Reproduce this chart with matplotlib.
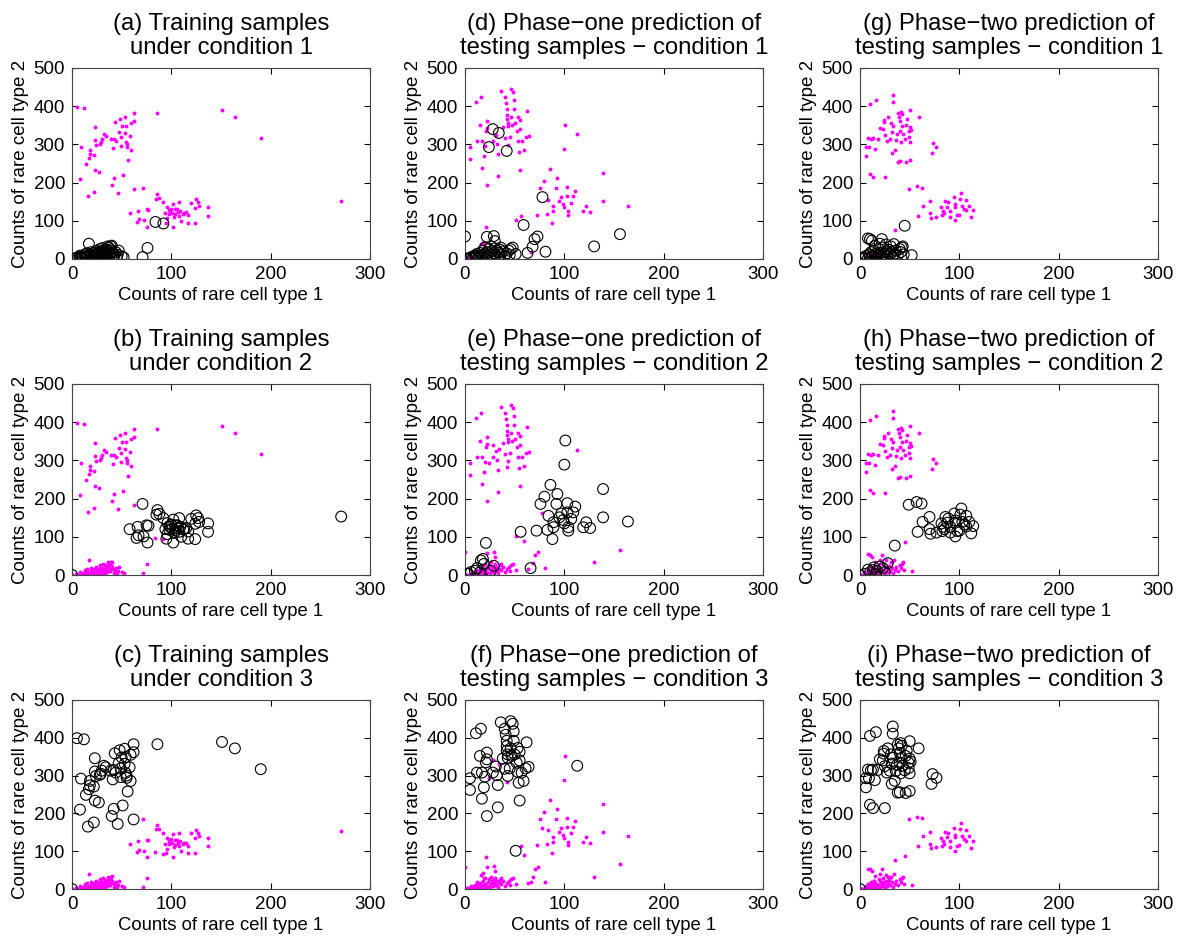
import matplotlib
matplotlib.use("Agg")
from matplotlib import pyplot as plt

plt.rcParams['font.family'] = ['Liberation Sans', 'DejaVu Sans']

# Training samples, grouped by their true condition
train_a = [(0, 0), (4, 3), (6, 1), (8, 6), (9, 3), (10, 2), (11, 4), (12, 1), (13, 7), (14, 3), (15, 9), (16, 4),
           (17, 40), (18, 7), (19, 11), (20, 2), (21, 7), (22, 16), (22, 5), (23, 11), (24, 14), (24, 21), (25, 3),
           (26, 7), (26, 13), (27, 16), (27, 4), (28, 20), (28, 26), (29, 11), (30, 18), (30, 6), (31, 9), (31, 29),
           (32, 16), (33, 25), (33, 5), (34, 13), (34, 20), (35, 8), (36, 23), (36, 14), (36, 33), (37, 29), (38, 16),
           (38, 10), (39, 33), (39, 25), (40, 20), (40, 35), (41, 16), (42, 6), (43, 11), (44, 18), (45, 4), (46, 11),
           (47, 22), (50, 7), (52, 4), (71, 5), (76, 29), (84, 97), (92, 93), (13, 12), (19, 18), (15, 15), (8, 9)]
train_b = [(0, 0), (271, 153), (86, 170), (85, 158), (58, 120), (66, 126), (65, 97), (67, 104), (72, 101), (75, 130),
           (76, 85), (71, 186), (92, 149), (94, 120), (95, 95), (96, 136), (98, 128), (99, 126), (101, 121), (102, 145),
           (102, 85), (104, 117), (104, 130), (107, 123), (108, 149), (108, 113), (109, 126), (110, 100), (112, 119),
           (113, 121), (115, 123), (117, 114), (117, 95), (120, 147), (124, 94), (124, 134), (125, 156), (127, 149),
           (128, 139), (137, 135), (137, 113), (100, 132), (96, 107), (88, 160), (103, 110), (106, 130), (98, 118),
           (77, 129)]
train_c = [(0, 0), (5, 399), (12, 396), (9, 292), (8, 210), (16, 165), (14, 249), (17, 264), (18, 274), (18, 286),
           (22, 271), (23, 311), (24, 299), (23, 346), (23, 234), (27, 229), (22, 176), (29, 305), (30, 313), (32, 326),
           (34, 322), (28, 302), (39, 313), (41, 290), (42, 315), (44, 308), (43, 359), (42, 212), (40, 193), (46, 172),
           (47, 333), (48, 367), (49, 319), (49, 296), (51, 221), (50, 348), (53, 371), (53, 331), (54, 349), (54, 307),
           (55, 300), (55, 294), (56, 258), (58, 322), (59, 355), (59, 286), (62, 362), (62, 383), (62, 184), (86, 383),
           (151, 389), (164, 372), (190, 317)]

# Testing samples, grouped by phase-one prediction
test1_a = [(1, 0), (2, 1), (5, 3), (7, 6), (8, 2), (10, 9), (11, 4), (12, 13), (13, 1), (14, 7), (15, 16), (16, 3),
           (17, 10), (18, 22), (19, 5), (20, 14), (21, 2), (22, 8), (23, 18), (24, 26), (25, 4), (26, 12), (27, 20),
           (28, 7), (29, 15), (30, 28), (31, 10), (32, 22), (33, 4), (34, 17), (35, 25), (36, 12), (38, 20), (40, 8),
           (42, 15), (44, 22), (46, 26), (45, 10), (36, 30), (26, 33), (20, 30), (0, 59), (59, 89), (78, 162),
           (73, 59), (70, 52), (68, 32), (63, 16), (81, 19), (130, 33), (156, 65), (48, 30), (51, 13), (22, 58),
           (29, 60), (30, 47), (28, 340), (34, 330), (24, 293), (42, 283)]
test1_b = [(2, 3), (101, 352), (100, 289), (86, 236), (139, 225), (93, 212), (80, 205), (76, 186), (92, 186),
           (103, 188), (111, 179), (84, 155), (97, 161), (103, 164), (109, 164), (95, 151), (99, 144), (107, 147),
           (89, 138), (100, 135), (139, 151), (164, 140), (122, 138), (119, 125), (126, 123), (104, 125), (104, 116),
           (89, 125), (83, 118), (72, 116), (56, 113), (88, 94), (66, 18), (21, 84), (18, 42), (19, 29), (29, 24),
           (10, 11), (3, 3), (15, 7), (26, 11), (12, 18), (6, 8), (16, 38)]
test1_c = [(5, 293), (5, 262), (11, 412), (16, 424), (12, 308), (15, 352), (17, 308), (17, 239), (19, 269), (20, 297),
           (21, 335), (22, 343), (22, 361), (22, 193), (31, 324), (32, 301), (33, 216), (33, 275), (36, 441), (40, 424),
           (41, 408), (42, 392), (42, 378), (42, 366), (43, 356), (43, 347), (45, 319), (46, 444), (48, 437), (49, 417),
           (49, 392), (50, 356), (52, 334), (53, 373), (55, 363), (55, 340), (53, 310), (55, 234), (57, 308), (59, 286),
           (61, 319), (62, 388), (64, 323), (43, 299), (54, 281), (113, 326), (51, 101), (38, 345), (46, 372),
           (40, 318), (28, 308), (47, 352)]

# Testing samples, grouped by phase-two prediction
test2_a = [(0, 2), (3, 1), (5, 4), (6, 8), (8, 2), (9, 12), (10, 5), (11, 18), (12, 3), (13, 9), (14, 22), (15, 6),
           (16, 14), (17, 1), (18, 10), (19, 26), (20, 4), (21, 16), (22, 8), (23, 30), (24, 12), (25, 3), (26, 20),
           (27, 7), (28, 15), (29, 24), (30, 10), (31, 33), (32, 18), (33, 6), (34, 39), (35, 14), (36, 22), (38, 10),
           (40, 26), (41, 18), (43, 33), (44, 12), (52, 10), (45, 87), (10, 52), (8, 54), (12, 48), (22, 52), (15, 35),
           (26, 38), (20, 40), (42, 30)]
test2_b = [(0, 0), (57, 191), (62, 187), (58, 113), (63, 139), (70, 152), (70, 120), (71, 108), (77, 111), (82, 135),
           (84, 126), (85, 120), (83, 115), (86, 152), (89, 148), (91, 126), (95, 161), (96, 143), (96, 137), (96, 101),
           (98, 115), (100, 116), (101, 158), (102, 174), (103, 139), (105, 132), (107, 155), (107, 127), (110, 139),
           (112, 109), (114, 128), (91, 111), (88, 137), (49, 184), (35, 77), (28, 31), (20, 22), (17, 11), (13, 13),
           (10, 7), (5, 3), (16, 3), (23, 18), (8, 14), (14, 20), (25, 8)]
test2_c = [(0, 0), (33, 430), (33, 411), (10, 405), (16, 415), (6, 293), (6, 269), (8, 316), (9, 293), (11, 314),
           (13, 316), (15, 288), (10, 223), (13, 214), (25, 214), (18, 315), (20, 343), (23, 340), (24, 358), (24, 365),
           (28, 372), (25, 325), (27, 308), (30, 313), (32, 332), (31, 356), (33, 347), (32, 278), (35, 286), (36, 312),
           (38, 382), (39, 372), (40, 360), (40, 334), (41, 386), (42, 379), (42, 347), (43, 326), (41, 306), (38, 255),
           (46, 254), (47, 366), (46, 352), (49, 334), (49, 320), (50, 306), (50, 391), (50, 345), (51, 337), (50, 259),
           (59, 372), (73, 304), (72, 278), (77, 294), (40, 256), (45, 314), (37, 328)]

titles = [
    ["(a) Training samples\nunder condition 1", "(b) Training samples\nunder condition 2",
     "(c) Training samples\nunder condition 3"],
    ["(d) Phase\u2212one prediction of\ntesting samples \u2212 condition 1",
     "(e) Phase\u2212one prediction of\ntesting samples \u2212 condition 2",
     "(f) Phase\u2212one prediction of\ntesting samples \u2212 condition 3"],
    ["(g) Phase\u2212two prediction of\ntesting samples \u2212 condition 1",
     "(h) Phase\u2212two prediction of\ntesting samples \u2212 condition 2",
     "(i) Phase\u2212two prediction of\ntesting samples \u2212 condition 3"],
]
groups = [[train_a, train_b, train_c], [test1_a, test1_b, test1_c], [test2_a, test2_b, test2_c]]

W, H = 1188, 943
col_left = [72, 465, 860]
row_top = [68, 384, 700]
row_bottom = [259, 575, 889]
ax_w = 298

fig = plt.figure(figsize=(W / 100, H / 100), dpi=100)

for col in range(3):
    for row in range(3):
        ax = fig.add_axes([col_left[col] / W, 1 - row_bottom[row] / H,
                           ax_w / W, (row_bottom[row] - row_top[row]) / H])
        for k, pts in enumerate(groups[col]):
            xs = [p[0] for p in pts]
            ys = [p[1] for p in pts]
            if k == row:
                # the condition of this panel: open black circles
                ax.scatter(xs, ys, s=60, facecolors='none', edgecolors='black', linewidths=0.8, zorder=3)
            else:
                ax.scatter(xs, ys, s=8, color='#ff00ff', linewidths=0, zorder=2)
        ax.set_xlim(0, 300)
        ax.set_ylim(0, 500)
        ax.set_xticks([0, 100, 200, 300])
        ax.set_yticks([0, 100, 200, 300, 400, 500])
        ax.tick_params(direction='in', top=True, right=True, length=4, labelsize=13.5, pad=5)
        for sp in ax.spines.values():
            sp.set_color('#444444')
            sp.set_linewidth(0.8)
        ax.set_xlabel("Counts of rare cell type 1", fontsize=13.3, labelpad=3)
        ax.set_ylabel("Counts of rare cell type 2", fontsize=13.5, labelpad=3)
        ax.set_title(titles[col][row], fontsize=17.2, pad=10, linespacing=1.12)

fig.savefig("out.png", dpi=100)
